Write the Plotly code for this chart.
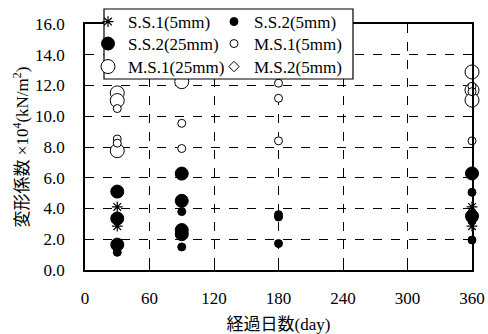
import plotly.graph_objects as go

# Data (days, modulus x10^4 kN/m^2)
ss1_5_x = [30, 30, 360, 360]
ss1_5_y = [4.1, 2.85, 4.1, 2.85]

ss2_5_x = [30, 90, 90, 180, 180, 180, 360, 360, 360]
ss2_5_y = [1.15, 3.8, 1.5, 3.6, 3.45, 1.72, 5.05, 3.2, 1.95]

ss2_25_x = [30, 30, 30, 90, 90, 90, 90, 360, 360]
ss2_25_y = [5.1, 3.35, 1.65, 6.27, 4.5, 2.6, 2.33, 6.28, 3.5]

ms1_5_x = [30, 30, 30, 90, 90, 180, 180, 180, 360, 360, 360]
ms1_5_y = [10.5, 8.52, 8.25, 9.54, 7.9, 12.15, 11.17, 8.4, 11.95, 11.6, 8.4]

ms1_25_x = [30, 30, 30, 90, 360, 360, 360]
ms1_25_y = [11.52, 11.02, 7.76, 12.25, 12.88, 11.7, 11.05]

ms2_5_x = [360]
ms2_5_y = [3.25]

x_ticks = [0, 60, 120, 180, 240, 300, 360]
y_ticks = [0, 2, 4, 6, 8, 10, 12, 14, 16]

FONT = "Liberation Serif, Noto Sans CJK JP, serif"

# plot area in pixels (for legend placement in paper coords)
L, R, T, B = 85, 472, 24, 270
PW, PH = R - L, B - T

def px(x):
    return (x - L) / PW

def py(y):
    return (B - y) / PH

fig = go.Figure()

def add(x, y, name, symbol, size, fill, legend, lw=1):
    fig.add_trace(go.Scatter(
        x=x, y=y, mode="markers", name=name, legend=legend, cliponaxis=False,
        marker=dict(symbol=symbol, size=size, color=fill,
                    line=dict(color="black", width=lw)),
    ))

add(ms2_5_x, ms2_5_y, "M.S.2(5mm)", "diamond", 8, "white", "legend6")
add(ms1_25_x, ms1_25_y, "M.S.1(25mm)", "circle", 14, "white", "legend5")
add(ms1_5_x, ms1_5_y, "M.S.1(5mm)", "circle", 8, "white", "legend4")
add(ss1_5_x, ss1_5_y, "S.S.1(5mm)", "asterisk-open", 9, "black", "legend", 1.2)
add(ss2_25_x, ss2_25_y, "S.S.2(25mm)", "circle", 13, "black", "legend3")
add(ss2_5_x, ss2_5_y, "S.S.2(5mm)", "circle", 8, "black", "legend2")

axis_common = dict(
    showline=True, linecolor="black", linewidth=1.5, mirror=True,
    showgrid=True, gridcolor="black", griddash="dash", gridwidth=1,
    ticks="inside", ticklen=5, tickcolor="black", zeroline=False,
    tickfont=dict(family=FONT, size=17, color="black"),
)

# legend positions: (text start x, row center y) in pixels
col_x = [128, 254]
row_y = [22, 44, 67]
TEXT_OFF = 40

def leg(cx, ry):
    return dict(x=px(cx - TEXT_OFF), y=py(ry), xanchor="left", yanchor="middle",
                bgcolor="rgba(0,0,0,0)", borderwidth=0, itemwidth=30,
                font=dict(family=FONT, size=17, color="black"))

fig.update_layout(
    width=488, height=334,
    margin=dict(l=L, r=488 - R, t=T, b=334 - B, autoexpand=False),
    paper_bgcolor="white", plot_bgcolor="white",
    font=dict(family=FONT, size=17, color="black"),
    showlegend=True,
    xaxis=dict(range=[0, 360], tickvals=x_ticks,
               title=dict(text="経過日数(day)", standoff=18,
                          font=dict(family=FONT, size=17)),
               ticklabelstandoff=12, **axis_common),
    yaxis=dict(range=[0, 16], tickvals=y_ticks, tickformat=".1f",
               title=dict(text="変形係数 ×10<sup>4</sup>(kN/m<sup>2</sup>)", standoff=2,
                          font=dict(family=FONT, size=17)),
               ticklabelstandoff=15, **axis_common),
    legend=leg(col_x[0], row_y[0]),
    legend2=leg(col_x[1], row_y[0]),
    legend3=leg(col_x[0], row_y[1]),
    legend4=leg(col_x[1], row_y[1]),
    legend5=leg(col_x[0], row_y[2]),
    legend6=leg(col_x[1], row_y[2]),
)

# legend frame
fig.add_shape(type="rect", xref="paper", yref="paper",
              x0=px(104), x1=px(353), y0=py(79), y1=py(9),
              line=dict(color="black", width=1.2), fillcolor="white", layer="above")

fig.write_html("out.html")
